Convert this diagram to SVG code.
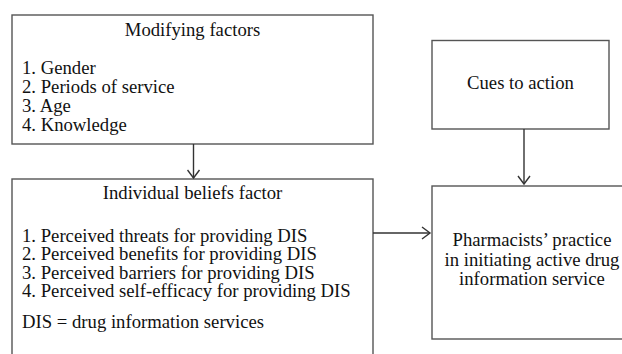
<svg xmlns="http://www.w3.org/2000/svg" width="622" height="354" viewBox="0 0 622 354">
<defs>
<style>
.box{fill:#fff;stroke:#555;stroke-width:1.4}
.t{font-family:"Liberation Serif","Times New Roman",serif;font-size:18.7px;fill:#111}
.c{text-anchor:middle}
.ln{stroke:#333;stroke-width:1.4;fill:none}
</style>
<marker id="ah" markerWidth="12" markerHeight="14" refX="9" refY="7" orient="auto" markerUnits="userSpaceOnUse">
<path d="M1,1 L9,7 L1,13" fill="none" stroke="#333" stroke-width="1.4"/>
</marker>
</defs>
<rect width="622" height="354" fill="#fff"/>
<g id="modifying">
<rect class="box" x="12" y="15" width="361" height="129"/>
<text class="t c" x="192.5" y="36">Modifying factors</text>
<text class="t" x="22" y="74">1. Gender</text>
<text class="t" x="22" y="93">2. Periods of service</text>
<text class="t" x="22" y="112">3. Age</text>
<text class="t" x="22" y="131">4. Knowledge</text>
</g>
<g id="beliefs">
<rect class="box" x="12" y="179" width="361" height="190"/>
<text class="t c" x="192.5" y="199">Individual beliefs factor</text>
<text class="t" x="22" y="241.5">1. Perceived threats for providing DIS</text>
<text class="t" x="22" y="260">2. Perceived benefits for providing DIS</text>
<text class="t" x="22" y="278.5">3. Perceived barriers for providing DIS</text>
<text class="t" x="22" y="297">4. Perceived self-efficacy for providing DIS</text>
<text class="t" x="22" y="328">DIS = drug information services</text>
</g>
<g id="cues">
<rect class="box" x="432" y="40.5" width="177" height="88.5"/>
<text class="t c" x="520.5" y="89">Cues to action</text>
</g>
<g id="practice">
<rect class="box" x="432" y="186" width="200" height="153"/>
<text class="t c" x="532" y="246">Pharmacists’ practice</text>
<text class="t c" x="532" y="266">in initiating active drug</text>
<text class="t c" x="532" y="285">information service</text>
</g>
<g id="connectors">
<line class="ln" x1="193.5" y1="144" x2="193.5" y2="178" marker-end="url(#ah)"/>
<line class="ln" x1="524" y1="129" x2="524" y2="184" marker-end="url(#ah)"/>
<line class="ln" x1="373" y1="233" x2="430" y2="233" marker-end="url(#ah)"/>
</g>
</svg>
